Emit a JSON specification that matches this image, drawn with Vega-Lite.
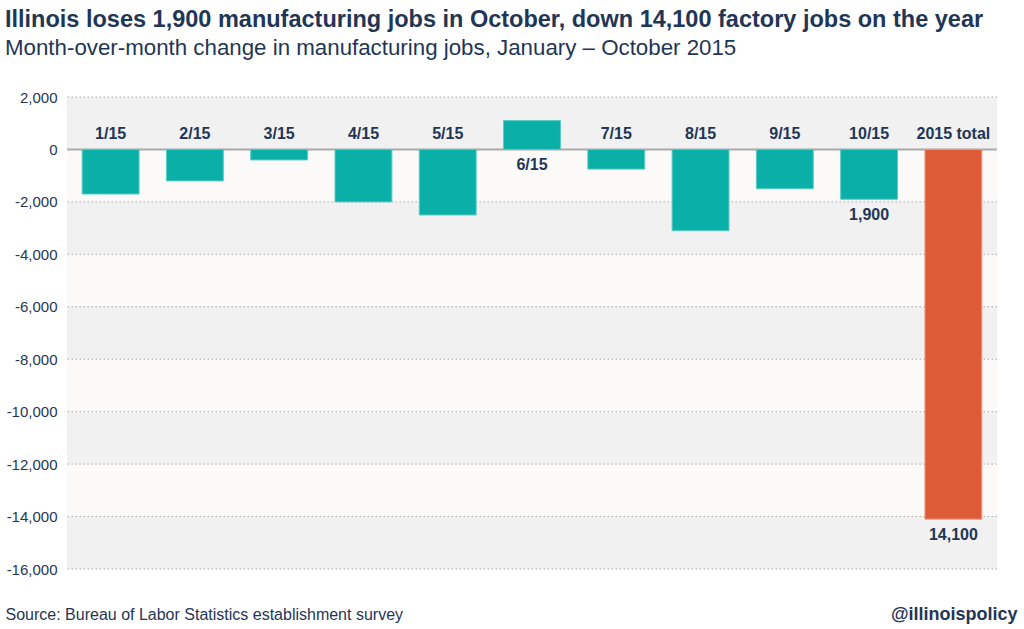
{
  "$schema": "https://vega.github.io/schema/vega-lite/v6.json",
  "width": 930,
  "height": 472,
  "autosize": {"type": "none"},
  "padding": {"left": 67, "top": 97, "right": 27, "bottom": 60},
  "background": "white",
  "config": {
    "view": {"stroke": null, "fill": "#fbfaf8"},
    "font": "Liberation Sans"
  },
  "title": {
    "text": "Illinois loses 1,900 manufacturing jobs in October, down 14,100 factory jobs on the year",
    "subtitle": "Month-over-month change in manufacturing jobs, January \u2013 October 2015",
    "anchor": "start",
    "frame": "group",
    "dx": -62,
    "offset": 31,
    "font": "Liberation Sans",
    "fontSize": 23.5,
    "fontWeight": "bold",
    "color": "#1f3656",
    "subtitleFont": "Liberation Sans",
    "subtitleFontSize": 22.3,
    "subtitleFontWeight": "normal",
    "subtitleColor": "#1f3656",
    "subtitlePadding": 5
  },
  "datasets": {
    "bands": [
      {"from": 2000, "to": 0},
      {"from": -2000, "to": -4000},
      {"from": -6000, "to": -8000},
      {"from": -10000, "to": -12000},
      {"from": -14000, "to": -16000}
    ],
    "jobs": [
      {"month": "1/15", "change": -1700, "kind": "month"},
      {"month": "2/15", "change": -1200, "kind": "month"},
      {"month": "3/15", "change": -400, "kind": "month"},
      {"month": "4/15", "change": -2000, "kind": "month"},
      {"month": "5/15", "change": -2500, "kind": "month"},
      {"month": "6/15", "change": 1100, "kind": "month"},
      {"month": "7/15", "change": -750, "kind": "month"},
      {"month": "8/15", "change": -3100, "kind": "month"},
      {"month": "9/15", "change": -1500, "kind": "month"},
      {"month": "10/15", "change": -1900, "kind": "month", "note": "1,900"},
      {"month": "2015 total", "change": -14100, "kind": "total", "note": "14,100"}
    ]
  },
  "layer": [
    {
      "data": {"name": "bands"},
      "mark": {"type": "rect", "fill": "#f1f1f1"},
      "encoding": {
        "y": {
          "field": "from",
          "type": "quantitative",
          "scale": {"domain": [-16000, 2000], "nice": false, "zero": false},
          "axis": {
            "values": [2000, 0, -2000, -4000, -6000, -8000, -10000, -12000, -14000, -16000],
            "grid": false,
            "domain": false,
            "ticks": false,
            "labelPadding": 10,
            "labelFont": "Liberation Sans",
            "labelFontSize": 15,
            "labelColor": "#1f3656",
            "labelExpr": "replace(format(datum.value, ','), '\u2212', '-')",
            "title": "@illinoispolicy",
            "titleAngle": 0,
            "titleX": 950,
            "titleY": 517,
            "titleAlign": "right",
            "titleBaseline": "middle",
            "titleFont": "Liberation Sans",
            "titleFontSize": 18,
            "titleFontWeight": "bold",
            "titleColor": "#1f3656"
          }
        },
        "y2": {"field": "to"}
      }
    },
    {
      "data": {"name": "bands"},
      "mark": {"type": "rule", "color": "#a8a8a8", "strokeWidth": 1, "strokeDash": [1.5, 2.5]},
      "encoding": {"y": {"field": "from", "type": "quantitative"}}
    },
    {
      "data": {"name": "bands"},
      "mark": {"type": "rule", "color": "#a8a8a8", "strokeWidth": 1, "strokeDash": [1.5, 2.5]},
      "encoding": {"y": {"field": "to", "type": "quantitative"}}
    },
    {
      "data": {"name": "jobs"},
      "transform": [{"filter": "datum.kind === 'total'"}],
      "mark": {"type": "rule", "color": "#a9a9a9", "strokeWidth": 2},
      "encoding": {"y": {"datum": 0, "type": "quantitative"}}
    },
    {
      "data": {"name": "jobs"},
      "mark": {"type": "bar", "strokeWidth": 1},
      "encoding": {
        "x": {
          "field": "month",
          "type": "nominal",
          "sort": null,
          "scale": {"type": "band", "paddingInner": 0.325, "paddingOuter": 0.18},
          "axis": {
            "labels": false,
            "ticks": false,
            "domain": false,
            "grid": false,
            "title": "Source: Bureau of Labor Statistics establishment survey",
            "titleX": -62,
            "titleY": 45,
            "titleAlign": "left",
            "titleAnchor": "start",
            "titleBaseline": "middle",
            "titleFont": "Liberation Sans",
            "titleFontSize": 16,
            "titleFontWeight": "normal",
            "titleColor": "#1f3656"
          }
        },
        "y": {"field": "change", "type": "quantitative"},
        "y2": {"datum": 0},
        "fill": {
          "field": "kind",
          "type": "nominal",
          "scale": {"domain": ["month", "total"], "range": ["#0aafa8", "#dd5c37"]},
          "legend": null
        },
        "stroke": {
          "field": "kind",
          "type": "nominal",
          "scale": {"domain": ["month", "total"], "range": ["#5ccbc3", "#ee9a80"]},
          "legend": null
        }
      }
    },
    {
      "data": {"name": "jobs"},
      "transform": [{"filter": "datum.change < 0"}],
      "mark": {"type": "text", "font": "Liberation Sans", "fontSize": 16, "fontWeight": "bold", "color": "#1f3656", "baseline": "middle"},
      "encoding": {
        "x": {"field": "month", "type": "nominal", "sort": null},
        "y": {"datum": 580, "type": "quantitative"},
        "text": {"field": "month"}
      }
    },
    {
      "data": {"name": "jobs"},
      "transform": [{"filter": "datum.change > 0"}],
      "mark": {"type": "text", "font": "Liberation Sans", "fontSize": 16, "fontWeight": "bold", "color": "#1f3656", "baseline": "middle"},
      "encoding": {
        "x": {"field": "month", "type": "nominal", "sort": null},
        "y": {"datum": -580, "type": "quantitative"},
        "text": {"field": "month"}
      }
    },
    {
      "data": {"name": "jobs"},
      "transform": [{"filter": "isValid(datum.note)"}],
      "mark": {"type": "text", "font": "Liberation Sans", "fontSize": 16, "fontWeight": "bold", "color": "#1f3656", "baseline": "middle", "dy": 16},
      "encoding": {
        "x": {"field": "month", "type": "nominal", "sort": null},
        "y": {"field": "change", "type": "quantitative"},
        "text": {"field": "note"}
      }
    }
  ]
}
